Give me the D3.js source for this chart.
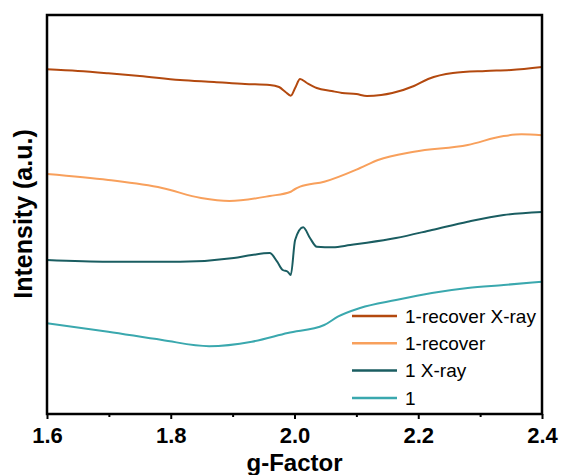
<!DOCTYPE html>
<html>
<head>
<meta charset="utf-8">
<script src="https://cdn.jsdelivr.net/npm/d3@7"></script>
<style>
  body { margin: 0; background: #fff; }
  svg { font-family: "Liberation Sans", Arial, sans-serif; }
</style>
</head>
<body>
<div class="chart"></div>
<script>
// g-factor / intensity (a.u.) pairs
const gRecoverXray = [1.600, 1.650, 1.699, 1.750, 1.815, 1.870, 1.920, 1.960, 1.975, 1.985, 1.994, 2.001, 2.009, 2.020, 2.036, 2.060, 2.077, 2.100, 2.117, 2.140, 2.158, 2.193, 2.216, 2.256, 2.309, 2.350, 2.400];
const iRecoverXray = [344.7, 343, 340.7, 338, 334, 332, 330, 329, 327, 322.3, 318.3, 326, 335, 331, 326, 323, 321, 320, 318, 319, 321, 328, 335, 341, 343, 344, 347];

const gRecover = [1.600, 1.699, 1.786, 1.849, 1.895, 1.960, 1.994, 2.001, 2.009, 2.048, 2.106, 2.135, 2.193, 2.280, 2.338, 2.367, 2.400];
const iRecover = [240, 234, 226, 216, 213, 218, 222.3, 225, 227.3, 232.3, 246, 254, 262.3, 269, 278, 279.7, 278.7];

const gXray = [1.600, 1.699, 1.815, 1.902, 1.931, 1.960, 1.972, 1.981, 1.989, 1.994, 2.001, 2.014, 2.025, 2.036, 2.062, 2.090, 2.117, 2.164, 2.222, 2.280, 2.338, 2.400];
const iXray = [154, 152.3, 152.3, 156, 159, 161, 152.3, 144, 142.3, 139, 174, 186.7, 176, 167.3, 166.7, 169, 171.3, 176, 184, 192.3, 199, 202];

const gOne = [1.600, 1.699, 1.786, 1.862, 1.931, 1.989, 2.048, 2.070, 2.106, 2.164, 2.222, 2.280, 2.338, 2.400];
const iOne = [90.7, 82.3, 74, 67.8, 72.3, 81, 89, 97.3, 106, 114, 121, 126, 129, 132.3];

const seriesNames = ['1-recover X-ray', '1-recover', '1 X-ray', '1'];
const seriesColors = ['#b3490f', '#f8a05c', '#1a5d61', '#3aa8ae'];
const xTicks = [1.6, 1.8, 2.0, 2.2, 2.4];
const xMinorTicks = [1.7, 1.9, 2.1, 2.3];

const series = [
  { name: seriesNames[0], color: seriesColors[0], g: gRecoverXray, v: iRecoverXray },
  { name: seriesNames[1], color: seriesColors[1], g: gRecover, v: iRecover },
  { name: seriesNames[2], color: seriesColors[2], g: gXray, v: iXray },
  { name: seriesNames[3], color: seriesColors[3], g: gOne, v: iOne },
];

const margin = { top: 15, right: 20, bottom: 61, left: 47 };
const widthBase = 562, heightBase = 475;
const width = widthBase - margin.left - margin.right,
  height = heightBase - margin.top - margin.bottom;

const svg = d3.select('.chart').append('svg')
  .attr('width', widthBase)
  .attr('height', heightBase)
  .append('g')
  .attr('transform', 'translate(' + margin.left + ',' + margin.top + ')');

const x = d3.scaleLinear().domain([1.6, 2.4]).range([0, width]);
const y = d3.scaleLinear().domain([0, 399]).range([height, 0]);

// curves
const line = d3.line()
  .curve(d3.curveMonotoneX)
  .x((d) => x(d[0]))
  .y((d) => y(d[1]));

series.forEach((s) => {
  svg.append('path')
    .datum(s.g.map((g, i) => [g, s.v[i]]))
    .attr('fill', 'none')
    .attr('stroke', s.color)
    .attr('stroke-width', 2)
    .attr('stroke-linejoin', 'round')
    .attr('d', line);
});

// x axis, major + minor ticks
const xAxis = d3.axisBottom(x)
  .tickValues(xTicks)
  .tickFormat(d3.format('.1f'))
  .tickSize(5);

const gx = svg.append('g')
  .attr('transform', 'translate(0,' + height + ')')
  .call(xAxis);
gx.select('.domain').remove();
gx.selectAll('line').attr('stroke', '#000').attr('stroke-width', 2);
gx.selectAll('text')
  .attr('fill', '#000')
  .style('font-size', '22px')
  .style('font-weight', 'bold')
  .attr('dy', null)
  .attr('y', 29);

svg.append('g')
  .attr('transform', 'translate(0,' + height + ')')
  .call(d3.axisBottom(x).tickValues(xMinorTicks).tickSize(3).tickFormat(''))
  .call((g) => g.select('.domain').remove())
  .selectAll('line').attr('stroke', '#000').attr('stroke-width', 2);

// frame
svg.append('rect')
  .attr('x', 0)
  .attr('y', 0)
  .attr('width', width)
  .attr('height', height)
  .attr('fill', 'none')
  .attr('stroke', '#000')
  .attr('stroke-width', 2.5);

// axis titles
svg.append('text')
  .attr('x', width / 2)
  .attr('y', height + 57)
  .attr('text-anchor', 'middle')
  .style('font-size', '24px')
  .style('font-weight', 'bold')
  .text('g-Factor');

svg.append('text')
  .attr('transform', 'translate(' + (32 - margin.left) + ',' + (214 - margin.top) + ') rotate(-90)')
  .attr('text-anchor', 'middle')
  .style('font-size', '25px')
  .style('font-weight', 'bold')
  .text('Intensity (a.u.)');

// legend
const legend = svg.append('g')
  .attr('transform', 'translate(' + (352 - margin.left) + ',' + (316 - margin.top) + ')');

const items = legend.selectAll('g')
  .data(series)
  .enter()
  .append('g')
  .attr('transform', (d, i) => 'translate(0,' + i * 27.3 + ')');

items.append('line')
  .attr('x1', 0)
  .attr('x2', 45)
  .attr('stroke', (d) => d.color)
  .attr('stroke-width', 2.5);

items.append('text')
  .attr('x', 53)
  .attr('dy', '0.35em')
  .style('font-size', '19px')
  .text((d) => d.name);
</script>
</body>
</html>
